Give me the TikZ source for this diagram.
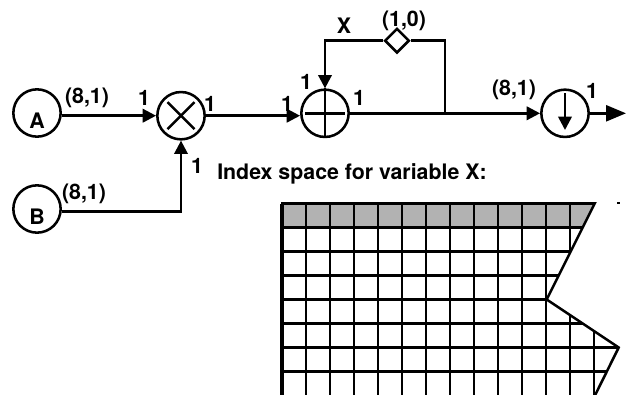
\documentclass[tikz,border=0pt]{standalone}
\usepackage{fontspec}
\setmainfont{TeX Gyre Heros}
\usetikzlibrary{arrows.meta,shapes.geometric}

\begin{document}
\begin{tikzpicture}[
  x=0.75pt, y=-0.75pt,
  wire/.style={line width=1.9pt},
  arrow/.style={wire, -{Triangle[length=10pt,width=10pt]}},
  bigarrow/.style={wire, -{Triangle[length=15pt,width=12pt]}},
  actor/.style={draw, circle, line width=1.9pt, minimum size=35.5pt, inner sep=0pt},
  delaybox/.style={draw, diamond, line width=1.9pt, minimum size=18.5pt, inner sep=0pt},
  lab/.style={font=\fontsize{16}{16}\bfseries\selectfont, inner sep=0pt}
]
\useasboundingbox (0,0) rectangle (626,394);

% index space
\begin{scope}
  \clip (282,203.5) -- (594,203.5) -- (546,299.5) -- (618,347.5) -- (594,395.5) -- (282,395.5) -- cycle;
  \fill[gray!60] (282,203.5) rectangle (594,227.5);
  \foreach \i in {1,...,13}
    \draw[line width=1.2pt] (282+24*\i,203.5) -- (282+24*\i,396);
  \foreach \j in {1,...,7}
    \draw[line width=1.8pt] (282,203.5+24*\j) -- (620,203.5+24*\j);
\end{scope}
\coordinate (gridtl) at (281,203.5);
\coordinate (gridbl) at (282,396);
\coordinate (gridtr) at (594.7,203.5);
\coordinate (gridin) at (546.7,299.5);
\coordinate (gridout) at (618.7,347.5);
\coordinate (gridbr) at (594.7,396);
\draw[line width=2.6pt] (gridtl -| gridbl) -- (gridbl);
\draw[wire] (gridtl) -- (gridtr) -- (gridin) -- (gridout) -- (gridbr);
\coordinate (ticka) at (617,202.8);
\coordinate (tickb) at (620,202.8);
\draw[wire] (ticka) -- (tickb);

% actors
\node[actor] (inA) at (37,113) {};
\node[actor] (inB) at (37,209) {};
\node[actor] (mult) at (181,115.7) {};
\node[actor] (plus) at (325,113.3) {};
\node[actor] (down) at (565,113.3) {};
\node[delaybox] (delay) at (397,40.7) {};
\coordinate (tap) at (445,113.3);
\coordinate (downtip) at (565,130);
\coordinate (downtop) at (565,93);
\coordinate (outend) at (626,113.3);

% glyphs
\draw[wire] ([shift={(-13.5,-13.5)}]mult.center) -- ([shift={(13.5,13.5)}]mult.center);
\draw[wire] ([shift={(-13.5,13.5)}]mult.center) -- ([shift={(13.5,-13.5)}]mult.center);
\draw[wire] (plus.north) -- (plus.south);
\draw[wire] ([xshift=3.75pt]plus.west) -- ([xshift=-3.75pt]plus.east);
\draw[arrow] (downtop) -- (downtip);

% connectors
\draw[arrow] (inA.east |- mult) -- (mult.west);
\draw[arrow] (inB.east |- 0,211.5) -| (mult.south);
\draw[arrow] (mult.east) -- (mult -| plus.west);
\draw[wire] (plus.east) -- (tap);
\draw[arrow] (tap) -- (down.west);
\draw[wire] (tap) |- (delay.east);
\draw[arrow] (delay.west) -| (plus.north);
\draw[bigarrow] (down.east) -- (outend);

% labels
\node[lab] (nameA) at (37,121) {A};
\node[lab] (nameB) at (37,217) {B};
\node[lab] (rateA) at (87,98) {(8,1)};
\node[lab] (rateB) at (84,194) {(8,1)};
\node[lab] (multin) at (144,98) {1};
\node[lab] (multout) at (210,104) {1};
\node[lab] (plusin) at (287,104) {1};
\node[lab] (plusfb) at (306,82) {1};
\node[lab] (multlow) at (197,166) {1};
\node[lab] (varX) at (344,25.7) {X};
\node[lab] (rateD) at (404,21) {(1,0)};
\node[lab] (plusout) at (359,98) {1};
\node[lab] (rateOut) at (514,90) {(8,1)};
\node[lab] (downout) at (592,91) {1};
\node[lab, anchor=west] (title) at (217,174) {Index space for variable X:};
\end{tikzpicture}
\end{document}
